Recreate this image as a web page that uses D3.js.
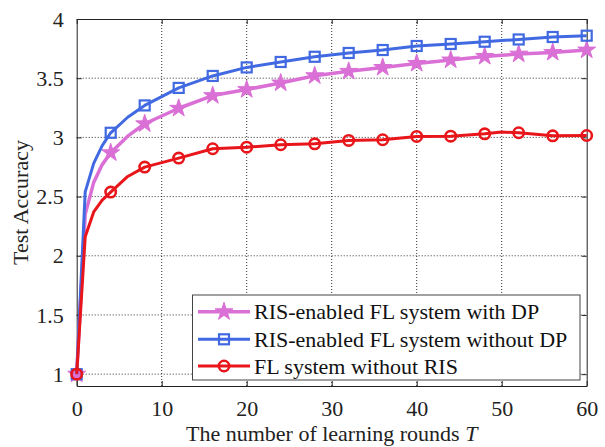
<!DOCTYPE html>
<html><head><meta charset="utf-8">
<script src="https://cdn.jsdelivr.net/npm/d3@7"></script>
<style>body{margin:0;background:#fff}svg{display:block}
svg text{font-family:"Liberation Serif","Times New Roman",Times,"DejaVu Serif",serif !important;}</style>
</head><body>
<script>
// Data
const rounds   = [0, 1, 2, 3, 4, 6, 8, 12, 16, 20, 24, 28, 32, 36, 40, 44, 48, 50, 52, 56, 60];
const withDP   = [1.00, 2.35, 2.62, 2.77, 2.87, 3.01, 3.115, 3.246, 3.353, 3.404, 3.46, 3.521, 3.558, 3.591, 3.625, 3.654, 3.684, 3.694, 3.704, 3.718, 3.738];
const withoutDP= [1.00, 2.54, 2.78, 2.93, 3.039, 3.17, 3.27, 3.418, 3.519, 3.591, 3.637, 3.681, 3.713, 3.738, 3.772, 3.789, 3.808, 3.818, 3.827, 3.848, 3.859];
const noRIS    = [1.00, 2.16, 2.37, 2.47, 2.538, 2.67, 2.749, 2.825, 2.904, 2.917, 2.938, 2.946, 2.974, 2.980, 3.008, 3.010, 3.030, 3.045, 3.039, 3.013, 3.016];
const seriesNames = ["RIS-enabled FL system with DP", "RIS-enabled FL system without DP", "FL system without RIS"];
const xTicks = [0, 10, 20, 30, 40, 50, 60];
const yTicks = [1, 1.5, 2, 2.5, 3, 3.5, 4];
const xLabel = "The number of learning rounds ";
const xLabelItalic = "T";
const yLabel = "Test Accuracy";

const W = 605, H = 447;
const m = {left: 76.7, right: W - 586.7, top: 19, bottom: H - 386};
const font = "Liberation Serif";
const fs = 22;

const svg = d3.select("body").append("svg").attr("width", W).attr("height", H);
const x = d3.scaleLinear().domain([0, 60]).range([m.left, W - m.right]);
const y = d3.scaleLinear().domain([0.9, 4]).range([H - m.bottom, m.top]);

// grid
const grid = svg.append("g");
grid.selectAll(".gx").data(xTicks.slice(1, -1)).join("line")
  .attr("x1", d => x(d)).attr("x2", d => x(d)).attr("y1", y(0.9)).attr("y2", y(4))
  .attr("stroke", "#333").attr("stroke-width", 1).attr("stroke-dasharray", "1,2");
grid.selectAll(".gy").data(yTicks.slice(0, -1)).join("line")
  .attr("x1", x(0)).attr("x2", x(60)).attr("y1", d => y(d)).attr("y2", d => y(d))
  .attr("stroke", "#333").attr("stroke-width", 1).attr("stroke-dasharray", "1,2");

// axes
const ax = svg.append("g");
ax.append("g").attr("transform", `translate(0,${y(0.9)})`)
  .call(d3.axisBottom(x).tickValues(xTicks).tickSizeInner(-5).tickSizeOuter(0).tickPadding(14).tickFormat(d3.format("d")));
ax.append("g").attr("transform", `translate(0,${y(4)})`)
  .call(d3.axisTop(x).tickValues(xTicks).tickSizeInner(-5).tickSizeOuter(0).tickFormat(""));
ax.append("g").attr("transform", `translate(${x(0)},0)`)
  .call(d3.axisLeft(y).tickValues(yTicks).tickSizeInner(-5).tickSizeOuter(0).tickPadding(13).tickFormat(d => String(d)));
ax.append("g").attr("transform", `translate(${x(60)},0)`)
  .call(d3.axisRight(y).tickValues(yTicks).tickSizeInner(-5).tickSizeOuter(0).tickFormat(""));
ax.selectAll("g").attr("font-family", font);
ax.selectAll(".domain").attr("stroke", "#222");
ax.selectAll(".tick line").attr("stroke", "#222");
ax.selectAll(".tick text").attr("font-size", fs).attr("fill", "#222");

// lines
const series = [
  {name: seriesNames[0], vals: withDP, color: "#da70d6", width: 3.5, marker: "star"},
  {name: seriesNames[1], vals: withoutDP, color: "#4169e1", width: 3, marker: "square"},
  {name: seriesNames[2], vals: noRIS, color: "#e8161b", width: 3, marker: "circle"}
];
const line = d3.line().x(d => x(d[0])).y(d => y(d[1]));

function drawMarker(g, type, color, cx, cy) {
  if (type === "star") {
    g.append("path").attr("d", d3.symbol(d3.symbolStar, 100)())
      .attr("transform", `translate(${cx},${cy})`).attr("fill", color).attr("stroke", color).attr("stroke-width", 1);
  } else if (type === "square") {
    g.append("rect").attr("x", cx - 5).attr("y", cy - 5).attr("width", 10).attr("height", 10)
      .attr("fill", "none").attr("stroke", color).attr("stroke-width", 2.2);
  } else {
    g.append("circle").attr("cx", cx).attr("cy", cy).attr("r", 5.2)
      .attr("fill", "none").attr("stroke", color).attr("stroke-width", 2.6);
  }
}

series.forEach(s => {
  const pts = rounds.map((t, i) => [t, s.vals[i]]);
  const g = svg.append("g");
  g.append("path").attr("d", line(pts)).attr("fill", "none").attr("stroke", s.color)
    .attr("stroke-width", s.width).attr("stroke-linejoin", "round");
  pts.filter(p => p[0] % 4 === 0).forEach(p => drawMarker(g, s.marker, s.color, x(p[0]), y(p[1])));
});

// legend
const lg = svg.append("g");
lg.append("rect").attr("x", 192.5).attr("y", 295).attr("width", 387.5).attr("height", 85)
  .attr("fill", "#fff").attr("stroke", "#444").attr("stroke-width", 1);
const rowY = [311.7, 339.3, 366];
series.forEach((s, i) => {
  lg.append("line").attr("x1", 198).attr("x2", 250).attr("y1", rowY[i]).attr("y2", rowY[i])
    .attr("stroke", s.color).attr("stroke-width", s.width);
  drawMarker(lg, s.marker, s.color, 224, rowY[i]);
  lg.append("text").attr("x", 254).attr("y", rowY[i]).attr("dy", "0.35em")
    .attr("font-family", font).attr("font-size", fs).attr("fill", "#111").text(s.name);
});

// axis labels
const xl = svg.append("text").attr("x", (x(0) + x(60)) / 2).attr("y", 441)
  .attr("text-anchor", "middle").attr("font-family", font).attr("font-size", fs).attr("fill", "#222");
xl.append("tspan").text(xLabel);
xl.append("tspan").attr("font-style", "italic").text(xLabelItalic);

svg.append("text").attr("transform", `translate(28,${(y(0.9) + y(4)) / 2}) rotate(-90)`)
  .attr("text-anchor", "middle").attr("font-family", font).attr("font-size", fs).attr("fill", "#222")
  .text(yLabel);
</script>
</body></html>
